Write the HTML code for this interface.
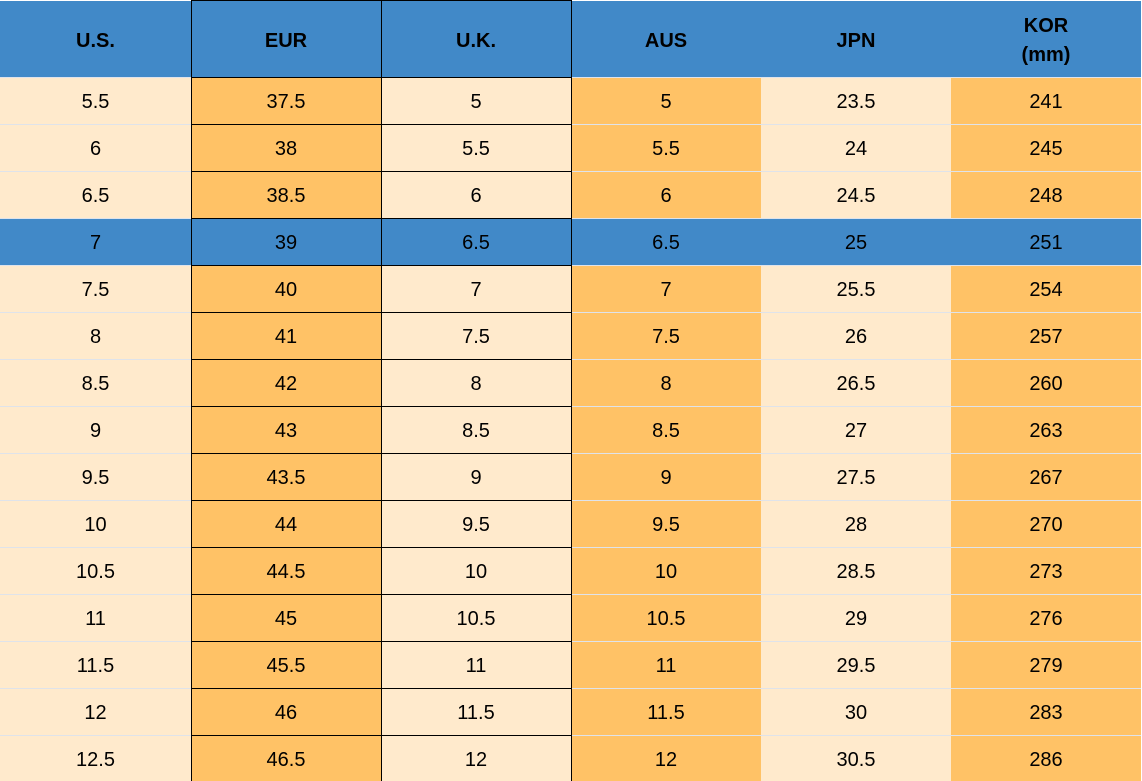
<!DOCTYPE html>
<html>
<head>
<meta charset="utf-8">
<style>
  html,body{margin:0;padding:0;background:#fff;}
  #c{position:relative;width:1142px;height:781px;overflow:hidden;background:#fff;
     font-family:"Liberation Sans",Arial,sans-serif;color:#000;}
  .cell{position:absolute;display:flex;align-items:center;justify-content:center;font-size:20px;box-sizing:border-box;padding-top:3px;}
  .h{font-weight:bold;padding-top:4px;}
  .b{background:#4189c8;}
  .l{background:#ffeacc;}
  .o{background:#ffc266;}
  .hl{position:absolute;left:0;width:1141px;height:1px;background:#dfe3ea;}
  .bl{position:absolute;left:191px;width:381px;height:1px;background:#000;}
  .vl{position:absolute;top:0;width:1px;height:781px;background:#000;}
</style>
</head>
<body>
<div id="c">
<!-- header -->
<div class="cell h b" style="left:0;top:1px;width:191px;height:76px;">U.S.</div>
<div class="cell h b" style="left:191px;top:1px;width:190px;height:76px;">EUR</div>
<div class="cell h b" style="left:381px;top:1px;width:190px;height:76px;">U.K.</div>
<div class="cell h b" style="left:571px;top:1px;width:190px;height:76px;">AUS</div>
<div class="cell h b" style="left:761px;top:1px;width:190px;height:76px;">JPN</div>
<div class="cell h b" style="left:951px;top:1px;width:190px;height:76px;flex-direction:column;line-height:29px;padding-top:3px;"><span>KOR</span><span>(mm)</span></div>
</div>
<script>
(function(){
  var data=[
  ["5.5","37.5","5","5","23.5","241"],
  ["6","38","5.5","5.5","24","245"],
  ["6.5","38.5","6","6","24.5","248"],
  ["7","39","6.5","6.5","25","251"],
  ["7.5","40","7","7","25.5","254"],
  ["8","41","7.5","7.5","26","257"],
  ["8.5","42","8","8","26.5","260"],
  ["9","43","8.5","8.5","27","263"],
  ["9.5","43.5","9","9","27.5","267"],
  ["10","44","9.5","9.5","28","270"],
  ["10.5","44.5","10","10","28.5","273"],
  ["11","45","10.5","10.5","29","276"],
  ["11.5","45.5","11","11","29.5","279"],
  ["12","46","11.5","11.5","30","283"],
  ["12.5","46.5","12","12","30.5","286"]];
  var xs=[0,191,381,571,761,951,1141];
  var cls=["l","o","l","o","l","o"];
  var c=document.getElementById('c');
  var h='';
  for(var r=0;r<data.length;r++){
    var top=77+47*r;
    for(var k=0;k<6;k++){
      var cl=(r==3)?"b":cls[k];
      h+='<div class="cell '+cl+'" style="left:'+xs[k]+'px;top:'+top+'px;width:'+(xs[k+1]-xs[k])+'px;height:47px;">'+data[r][k]+'</div>';
    }
  }
  for(var r=0;r<=15;r++){
    var y=77+47*r;
    h+='<div class="hl" style="top:'+y+'px"></div>';
    h+='<div class="bl" style="top:'+y+'px"></div>';
  }
  h+='<div class="bl" style="top:0px"></div>';
  h+='<div class="vl" style="left:191px"></div>';
  h+='<div class="vl" style="left:381px"></div>';
  h+='<div class="vl" style="left:571px"></div>';
  c.insertAdjacentHTML('beforeend',h);
})();
</script>
</body>
</html>
